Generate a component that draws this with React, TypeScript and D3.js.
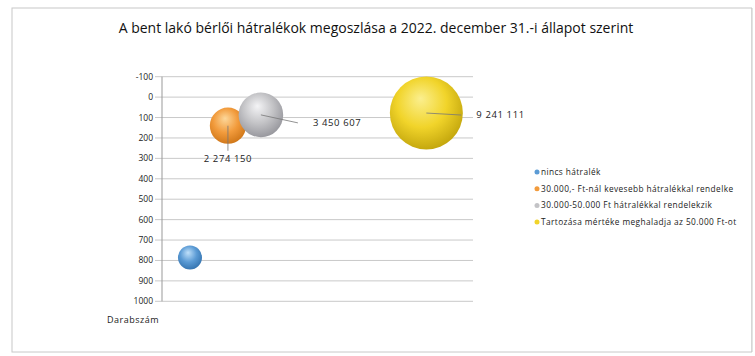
import React from "react";
import * as d3 from "d3";

const seriesNames = [
  "nincs hátralék",
  "30.000,- Ft-nál kevesebb hátralékkal rendelke",
  "30.000-50.000 Ft hátralékkal rendelekzik",
  "Tartozása mértéke meghaladja az 50.000 Ft-ot",
];
const xValues = [0.9, 2.12, 3.18, 8.5];
const yValues = [785, 140, 87, 78];
const sizeValues = [1000000, 2274150, 3450607, 9241111];
const dataLabels = ["", "2 274 150", "3 450 607", "9 241 111"];
const yTicks = [-100, 0, 100, 200, 300, 400, 500, 600, 700, 800, 900, 1000];
const colors = [
  { base: "#5b9bd5", light: "#bfe0fa", dark: "#3574b0" },
  { base: "#f29b3c", light: "#fcd79a", dark: "#cf7618" },
  { base: "#c3c3c6", light: "#f4f4f6", dark: "#96969c" },
  { base: "#f1d42a", light: "#fbef8e", dark: "#c2a50c" },
];

export default function App() {
  const W = 755, H = 356;
  const x = d3.scaleLinear().domain([0, 10]).range([162, 473]);
  const y = d3.scaleLinear().domain([-100, 1000]).range([76.7, 301.3]);
  const r = d3.scaleSqrt().domain([0, 9241111]).range([0, 36.5]);
  const font = "'Open Sans', 'Liberation Sans', sans-serif";

  const leaderEnds = [
    null,
    { tx: 0, ty: 36, anchor: "middle" },
    { tx: 52, ty: 11, anchor: "start" },
    { tx: 50, ty: 5, anchor: "start" },
  ];

  return (
    <svg width={W} height={H} style={{ position: "absolute", left: 0, top: 0, background: "#fff" }}>
      <defs>
        {colors.map((c, i) => (
          <radialGradient key={i} id={`g${i}`} cx="0.45" cy="0.4" r="0.62" fx="0.42" fy="0.3">
            <stop offset="0%" stopColor={c.light} />
            <stop offset="55%" stopColor={c.base} />
            <stop offset="100%" stopColor={c.dark} />
          </radialGradient>
        ))}
      </defs>
      <rect x={12} y={8} width={740} height={344} fill="#fff" stroke="#c8c8c8" strokeWidth={1} />
      <text x={376} y={33} textAnchor="middle" fontFamily={font} fontSize={14} fill="#111">
        A  bent lakó bérlői hátralékok megoszlása a 2022. december 31.-i állapot szerint
      </text>
      {yTicks.map((t) => (
        <g key={t}>
          <line x1={155} x2={473} y1={y(t)} y2={y(t)} stroke="#c9c9c9" strokeWidth={1} />
          <text x={153} y={y(t) + 3} textAnchor="end" fontFamily={font} fontSize={8.5} fill="#222">
            {t}
          </text>
        </g>
      ))}
      <line x1={162} x2={162} y1={y(-100)} y2={y(1000)} stroke="#999" strokeWidth={1} />
      <text x={133} y={323} textAnchor="middle" fontFamily={font} fontSize={9} fill="#222" letterSpacing={0.5}>
        Darabszám
      </text>
      {xValues.map((xv, i) => {
        const cx = x(xv), cy = y(yValues[i]), rr = r(sizeValues[i]);
        return <circle key={i} cx={cx} cy={cy} r={rr} fill={`url(#g${i})`} />;
      })}
      {xValues.map((xv, i) => {
        const le = leaderEnds[i];
        if (!le || !dataLabels[i]) return null;
        const cx = x(xv), cy = y(yValues[i]), rr = r(sizeValues[i]);
        let x2: number, y2: number;
        if (le.anchor === "middle") {
          x2 = cx; y2 = cy + rr + 7;
        } else {
          x2 = cx + le.tx - 15; y2 = cy + le.ty - 3;
        }
        return (
          <g key={`l${i}`}>
            <line x1={cx} y1={cy} x2={x2} y2={y2} stroke="#777" strokeWidth={0.8} />
            <text x={cx + le.tx} y={cy + le.ty} textAnchor={le.anchor} fontFamily={font} fontSize={9.5} fill="#222" letterSpacing={0.6}>
              {dataLabels[i]}
            </text>
          </g>
        );
      })}
      <g>
        {seriesNames.map((s, i) => (
          <g key={s}>
            <circle cx={537} cy={172 + i * 16.7} r={2.5} fill={colors[i].base} />
            <text x={541} y={175 + i * 16.7} fontFamily={font} fontSize={8.3} fill="#222" letterSpacing={0.4}>
              {s}
            </text>
          </g>
        ))}
      </g>
      <rect x={752} y={0} width={3} height={H} fill="#fff" />
      <line x1={752} x2={752} y1={8} y2={352} stroke="#c8c8c8" />
    </svg>
  );
}
